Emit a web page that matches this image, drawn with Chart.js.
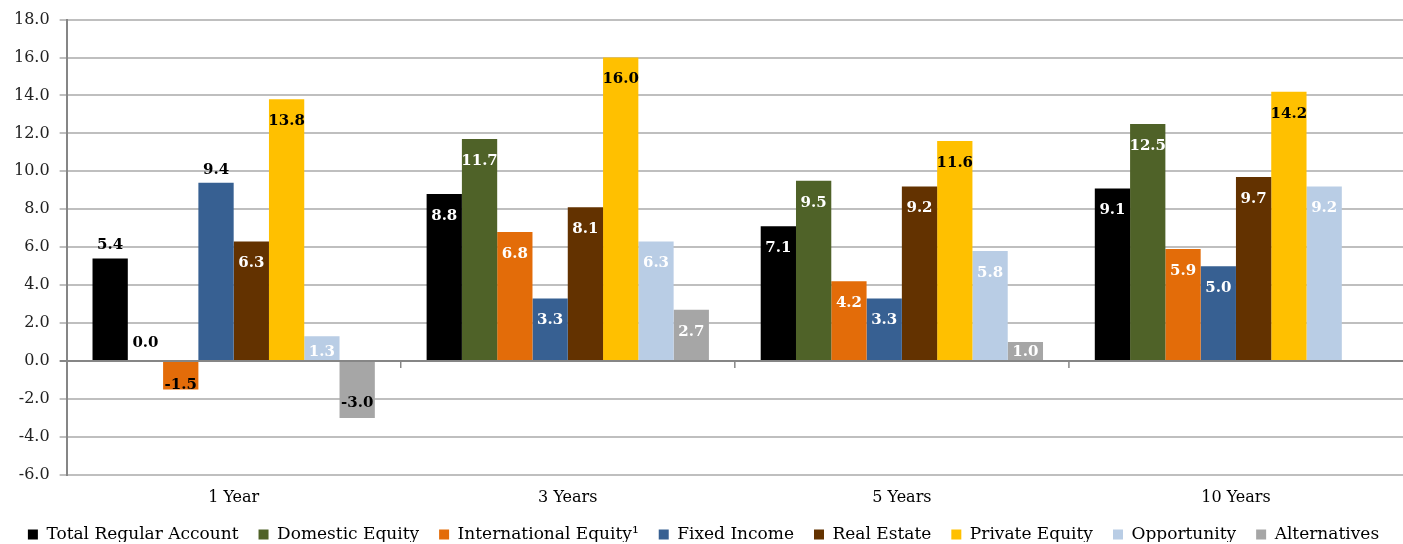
<!DOCTYPE html>
<html>
<head>
<meta charset="utf-8">
<script src="https://cdn.jsdelivr.net/npm/chart.js@4/dist/chart.umd.min.js"></script>
<style>
  html, body { margin: 0; padding: 0; background: #fff; }
  #wrap { width: 1403px; height: 544px; }
</style>
</head>
<body>
<div id="wrap"><canvas id="out"></canvas></div>
<script>
const periods = ["1 Year", "3 Years", "5 Years", "10 Years"];

const totalRegular = [5.4, 8.8, 7.1, 9.1];
const domesticEquity = [0.0, 11.7, 9.5, 12.5];
const internationalEquity = [-1.5, 6.8, 4.2, 5.9];
const fixedIncome = [9.4, 3.3, 3.3, 5.0];
const realEstate = [6.3, 8.1, 9.2, 9.7];
const privateEquity = [13.8, 16.0, 11.6, 14.2];
const opportunity = [1.3, 6.3, 5.8, 9.2];
const alternatives = [-3.0, 2.7, 1.0, null];

const yTicks = [-6, -4, -2, 0, 2, 4, 6, 8, 10, 12, 14, 16, 18];

const serif = "'DejaVu Serif', serif";

// labels drawn above the bar instead of inside (category-dataset)
const outsideLabels = ["0-0", "0-1", "0-3"];

const valueLabels = {
  id: "valueLabels",
  afterDatasetsDraw(chart) {
    const ctx = chart.ctx;
    ctx.save();
    ctx.font = "bold 15px " + serif;
    ctx.textAlign = "center";
    ctx.textBaseline = "middle";
    chart.data.datasets.forEach(function(ds, d) {
      const meta = chart.getDatasetMeta(d);
      meta.data.forEach(function(bar, i) {
        const v = ds.data[i];
        if (v === null || v === undefined) return;
        const outside = outsideLabels.indexOf(i + "-" + d) >= 0;
        let y;
        if (outside) {
          y = bar.y - (v === 0 ? 18 : 13);
        } else if (v >= 0) {
          y = Math.min(bar.y + 22, bar.base - 8);
        } else {
          y = Math.max(bar.y - 15, bar.base + 23);
        }
        ctx.fillStyle = (outside || v < 0 || d === 5) ? "#000" : "#fff";
        ctx.fillText(v.toFixed(1), bar.x, y);
      });
    });
    ctx.restore();
  }
};

// small tick marks on the zero line between the categories
const zeroTicks = {
  id: "zeroTicks",
  afterDatasetsDraw(chart) {
    const x = chart.scales.x, y = chart.scales.y;
    const y0 = y.getPixelForValue(0);
    const ctx = chart.ctx;
    ctx.save();
    ctx.strokeStyle = "#868686";
    ctx.lineWidth = 1.5;
    for (let i = 1; i < periods.length; i++) {
      const px = (x.getPixelForValue(i - 1) + x.getPixelForValue(i)) / 2;
      ctx.beginPath();
      ctx.moveTo(px, y0);
      ctx.lineTo(px, y0 + 7);
      ctx.stroke();
    }
    ctx.restore();
  }
};

// keep the legend on one row and make its box shorter
const tightLegend = {
  id: "tightLegend",
  afterInit(chart) {
    const legend = chart.legend;
    const origFit = legend.fit;
    const origDraw = legend.draw;
    legend.fit = function() {
      this.maxWidth += 60;
      origFit.call(this);
      this.maxWidth -= 60;
      this.width = this.maxWidth;
      this.height -= 17;
    };
    legend.draw = function() {
      const top = this.top;
      this.top = top - 6;
      origDraw.call(this);
      this.top = top;
    };
  }
};

function series(label, data, color) {
  return {
    label: label,
    data: data,
    backgroundColor: color,
    borderWidth: 0,
    categoryPercentage: 0.845,
    barPercentage: 1.0
  };
}

const chartConfig = {
  type: "bar",
  data: {
    labels: periods,
    datasets: [
      series("Total Regular Account", totalRegular, "#000000"),
      series("Domestic Equity", domesticEquity, "#4F6228"),
      series("International Equity\u00B9", internationalEquity, "#E36C09"),
      series("Fixed Income", fixedIncome, "#376092"),
      series("Real Estate", realEstate, "#633200"),
      series("Private Equity", privateEquity, "#FFC000"),
      series("Opportunity", opportunity, "#B9CDE5"),
      series("Alternatives", alternatives, "#A6A6A6")
    ]
  },
  options: {
    responsive: true,
    maintainAspectRatio: false,
    animation: false,
    layout: { padding: { top: 8, left: 4, right: 0, bottom: 2 } },
    plugins: {
      legend: {
        position: "bottom",
        labels: {
          boxWidth: 10,
          boxHeight: 10,
          padding: 20,
          color: "#000",
          font: { family: serif, size: 17 }
        }
      },
      tooltip: { enabled: false }
    },
    scales: {
      x: {
        grid: { display: false },
        border: { display: false },
        ticks: { color: "#000", padding: 5, font: { family: serif, size: 16 } }
      },
      y: {
        min: -6,
        max: 18,
        afterBuildTicks(scale) {
          scale.ticks = yTicks.map(v => ({ value: v }));
        },
        grid: {
          color: c => (c.tick && c.tick.value === 0) ? "#868686" : "#BFBFBF",
          lineWidth: 2,
          tickLength: 7
        },
        border: { color: "#868686", width: 2 },
        ticks: {
          color: "#222",
          padding: 10,
          font: { family: serif, size: 16 },
          callback: v => v.toFixed(1)
        }
      }
    }
  },
  plugins: [valueLabels, zeroTicks, tightLegend]
};

window.chart = new Chart(document.getElementById("out").getContext("2d"), chartConfig);
</script>
</body>
</html>
